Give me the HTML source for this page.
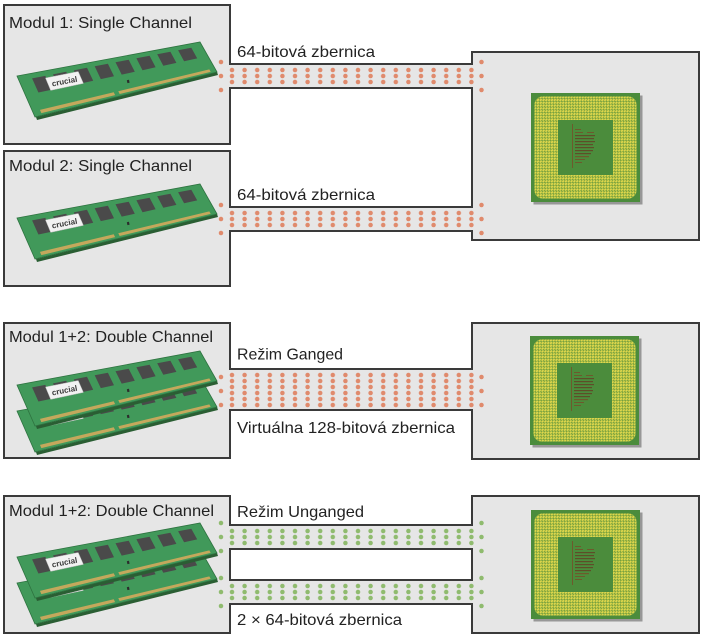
<!DOCTYPE html>
<html>
<head>
<meta charset="utf-8">
<style>
html,body{margin:0;padding:0;background:#fff;width:702px;height:639px;overflow:hidden}
svg{display:block}
text{font-family:"Liberation Sans",Arial,sans-serif;fill:#222}
</style>
</head>
<body>
<svg width="702" height="639" viewBox="0 0 702 639" xmlns="http://www.w3.org/2000/svg">
<defs>
  <pattern id="od" x="225.7" y="0" width="12.6" height="6" patternUnits="userSpaceOnUse">
    <circle cx="6.3" cy="3" r="2.25" fill="#e08a6c"/>
  </pattern>
  <pattern id="gd" x="225.7" y="0" width="12.6" height="6" patternUnits="userSpaceOnUse">
    <circle cx="6.3" cy="3" r="2.25" fill="#8fbb6e"/>
  </pattern>
  <pattern id="pins" x="0" y="0" width="2.8" height="2.8" patternUnits="userSpaceOnUse">
    <rect width="2.8" height="2.8" fill="#6a9a3c"/>
    <ellipse cx="1.4" cy="1.4" rx="1.45" ry="1.0" transform="rotate(-45 1.4 1.4)" fill="#e0d84c"/>
  </pattern>

  <g id="ram">
    <polygon points="36,117 217,72 218,75 37,120" fill="#2a5e33"/>
    <polygon points="17,76 200,42 217,72 35,117" fill="#41995a" stroke="#2e7340" stroke-width="0.8"/>
    <polygon points="32.1,78.4 45.3,75.9 51.6,89.7 38.4,92.5" fill="#4a4a4a"/>
    <polygon points="53.0,74.4 66.2,71.8 72.4,85.2 59.2,88.0" fill="#4a4a4a"/>
    <polygon points="73.8,70.4 87.0,67.8 93.2,80.7 80.0,83.6" fill="#4a4a4a"/>
    <polygon points="94.7,66.3 107.9,63.8 114.0,76.3 100.8,79.1" fill="#4a4a4a"/>
    <polygon points="115.5,62.3 128.7,59.8 134.8,71.8 121.7,74.6" fill="#4a4a4a"/>
    <polygon points="136.4,58.3 149.6,55.7 155.6,67.3 142.5,70.2" fill="#4a4a4a"/>
    <polygon points="157.2,54.3 170.4,51.7 176.4,62.9 163.3,65.7" fill="#4a4a4a"/>
    <polygon points="178.1,50.2 191.3,47.7 197.2,58.4 184.1,61.2" fill="#4a4a4a"/>
    <polygon points="45.5,78 78.2,71.5 83.4,83.4 50.7,90.4" fill="#f2f2f2" stroke="#bbb" stroke-width="0.5"/>
    <text x="65" y="84" font-size="8" font-weight="bold" text-anchor="middle" transform="rotate(-11 65 84)" style="fill:#3a3a3a">crucial</text>
    <rect x="127" y="80" width="2.2" height="3" fill="#2c2c2c" transform="rotate(-11 128 81)"/>
    <polygon points="39.95,109.93 113.71,92.28 115.11,95.17 41.38,113.17" fill="#c4a85c"/>
    <polygon points="118.26,91.19 209.33,69.41 210.69,71.83 119.66,94.06" fill="#c4a85c"/>
  </g>

  <g id="cpu">
    <rect x="2.5" y="2.5" width="109" height="109" fill="#555" opacity="0.55"/>
    <rect x="0" y="0" width="109" height="109" fill="#4b8c3c"/>
    <rect x="3.5" y="3.5" width="102" height="102" rx="8" fill="url(#pins)"/>
    <rect x="27" y="27" width="55" height="55" fill="#4b8c3c"/>
    <rect x="41" y="31" width="1" height="44" fill="#6d5a2c"/>
    <rect x="44" y="36" width="6" height="1" fill="#6d5a2c"/>
    <rect x="44" y="39" width="8" height="1" fill="#6d5a2c"/>
    <rect x="56" y="39" width="7" height="1" fill="#6d5a2c"/>
    <rect x="44" y="42" width="20" height="1.2" fill="#5e4e28"/>
    <rect x="44" y="45" width="19" height="1.2" fill="#5e4e28"/>
    <rect x="44" y="48" width="20" height="1.2" fill="#5e4e28"/>
    <rect x="44" y="51" width="18" height="1.2" fill="#5e4e28"/>
    <rect x="44" y="54" width="19" height="1.2" fill="#5e4e28"/>
    <rect x="44" y="57" width="18" height="1.2" fill="#5e4e28"/>
    <rect x="44" y="60" width="16" height="1.2" fill="#5e4e28"/>
    <rect x="44" y="63" width="14" height="1.2" fill="#6d5a2c"/>
    <rect x="44" y="66" width="10" height="1" fill="#6d5a2c"/>
    <rect x="44" y="69" width="7" height="1" fill="#6d5a2c"/>
  </g>
</defs>

<!-- Sections 1 & 2 outline -->
<polygon points="4,5 230,5 230,64 472,64 472,52 699,52 699,240 472,240 472,231 230,231 230,286 4,286 4,151 230,151 230,207 472,207 472,88 230,88 230,144 4,144"
  fill="#e6e6e6" stroke="#3a3a3a" stroke-width="2" stroke-linejoin="miter"/>
<!-- Section 3 outline -->
<polygon points="4,323 230,323 230,369 472,369 472,323 699,323 699,459 472,459 472,410 230,410 230,458 4,458"
  fill="#e6e6e6" stroke="#3a3a3a" stroke-width="2"/>
<!-- Section 4 outline -->
<polygon points="4,496 230,496 230,525 472,525 472,496 699,496 699,633 472,633 472,604 230,604 230,633 4,633"
  fill="#e6e6e6" stroke="#3a3a3a" stroke-width="2"/>
<rect x="230" y="549" width="242" height="31" fill="#fff" stroke="#3a3a3a" stroke-width="2"/>

<!-- RAM modules -->
<use href="#ram"/>
<use href="#ram" transform="translate(0,142)"/>
<use href="#ram" transform="translate(0,335)"/>
<use href="#ram" transform="translate(0,309)"/>
<use href="#ram" transform="translate(0,507)"/>
<use href="#ram" transform="translate(0,481)"/>

<!-- CPUs -->
<use href="#cpu" transform="translate(531,93)"/>
<use href="#cpu" transform="translate(530,336)"/>
<use href="#cpu" transform="translate(531,510)"/>

<!-- Bus dots -->
<g transform="translate(0,67)"><rect x="225.7" y="0" width="252" height="18" fill="url(#od)"/></g>
<g transform="translate(0,210)"><rect x="225.7" y="0" width="252" height="18" fill="url(#od)"/></g>
<g transform="translate(0,372)"><rect x="225.7" y="0" width="252" height="36" fill="url(#od)"/></g>
<g transform="translate(0,528)"><rect x="225.7" y="0" width="252" height="18" fill="url(#gd)"/></g>
<g transform="translate(0,583)"><rect x="225.7" y="0" width="252" height="18" fill="url(#gd)"/></g>

<g fill="#e08a6c">
  <circle cx="221" cy="62" r="2.25"/><circle cx="221" cy="76" r="2.25"/><circle cx="221" cy="90" r="2.25"/>
  <circle cx="481.5" cy="62" r="2.25"/><circle cx="481.5" cy="76" r="2.25"/><circle cx="481.5" cy="90" r="2.25"/>
  <circle cx="221" cy="205" r="2.25"/><circle cx="221" cy="219" r="2.25"/><circle cx="221" cy="233" r="2.25"/>
  <circle cx="481.5" cy="205" r="2.25"/><circle cx="481.5" cy="219" r="2.25"/><circle cx="481.5" cy="233" r="2.25"/>
  <circle cx="221" cy="377" r="2.25"/><circle cx="221" cy="391" r="2.25"/><circle cx="221" cy="405" r="2.25"/>
  <circle cx="481.5" cy="377" r="2.25"/><circle cx="481.5" cy="391" r="2.25"/><circle cx="481.5" cy="405" r="2.25"/>
</g>
<g fill="#8fbb6e">
  <circle cx="221" cy="523" r="2.25"/><circle cx="221" cy="537" r="2.25"/><circle cx="221" cy="551" r="2.25"/>
  <circle cx="221" cy="578" r="2.25"/><circle cx="221" cy="592" r="2.25"/><circle cx="221" cy="606" r="2.25"/>
  <circle cx="481.5" cy="523" r="2.25"/><circle cx="481.5" cy="537" r="2.25"/><circle cx="481.5" cy="551" r="2.25"/>
  <circle cx="481.5" cy="578" r="2.25"/><circle cx="481.5" cy="592" r="2.25"/><circle cx="481.5" cy="606" r="2.25"/>
</g>

<!-- Labels -->
<g font-size="16">
  <text x="9" y="28" textLength="183" lengthAdjust="spacingAndGlyphs">Modul 1: Single Channel</text>
  <text x="237" y="57" textLength="138" lengthAdjust="spacingAndGlyphs">64-bitová zbernica</text>
  <text x="9" y="171" textLength="183" lengthAdjust="spacingAndGlyphs">Modul 2: Single Channel</text>
  <text x="237" y="200" textLength="138" lengthAdjust="spacingAndGlyphs">64-bitová zbernica</text>
  <text x="9" y="342" textLength="204" lengthAdjust="spacingAndGlyphs">Modul 1+2: Double Channel</text>
  <text x="237" y="359.5" textLength="106" lengthAdjust="spacingAndGlyphs">Režim Ganged</text>
  <text x="237" y="433" textLength="218" lengthAdjust="spacingAndGlyphs">Virtuálna 128-bitová zbernica</text>
  <text x="9" y="516" textLength="205" lengthAdjust="spacingAndGlyphs">Modul 1+2: Double Channel</text>
  <text x="237" y="517" textLength="127" lengthAdjust="spacingAndGlyphs">Režim Unganged</text>
  <text x="237" y="625" textLength="165" lengthAdjust="spacingAndGlyphs">2 × 64-bitová zbernica</text>
</g>
</svg>
</body>
</html>
